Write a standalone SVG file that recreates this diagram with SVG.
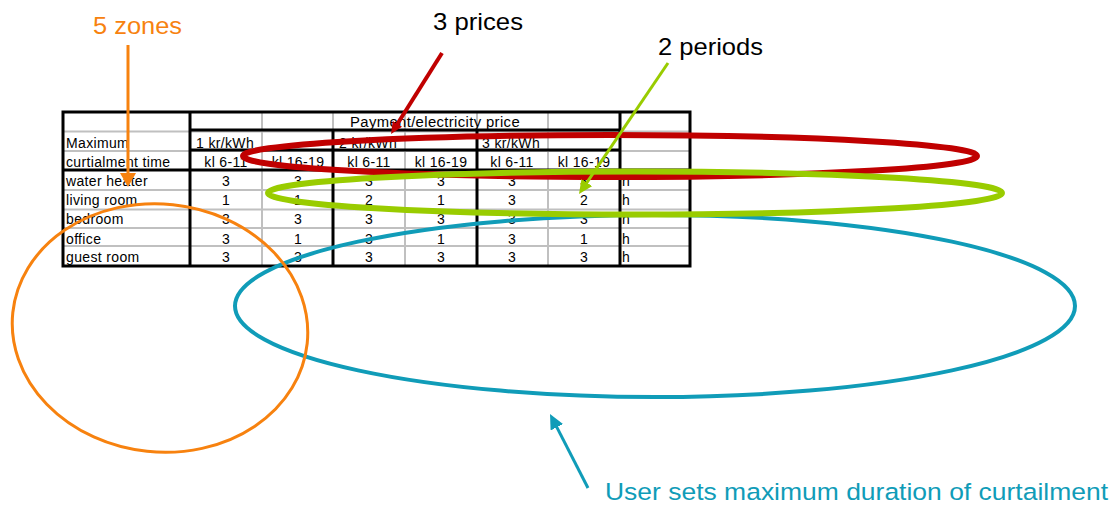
<svg xmlns="http://www.w3.org/2000/svg" width="1115" height="505" viewBox="0 0 1115 505">
  <style>
    .cell { font-family: "Liberation Sans", Arial, sans-serif; font-size: 14px; letter-spacing: 0.35px; fill: #000; }
    .num { text-anchor: middle; }
    .grid-b { stroke: #000; stroke-width: 3; fill: none; }
    .grid-g { stroke: #c0c0c0; stroke-width: 2; fill: none; }
    .note { font-family: "Liberation Sans", Arial, sans-serif; font-size: 24.5px; }
    .ring { fill: none; }
  </style>
  <defs>
    <marker id="head-orange" markerUnits="userSpaceOnUse" viewBox="0 0 14 16" markerWidth="14" markerHeight="16" refX="1" refY="8" orient="auto">
      <path d="M0,0 L14,8 L0,16 z" fill="#f7820f"/>
    </marker>
    <marker id="head-red" markerUnits="userSpaceOnUse" viewBox="0 0 12 11" markerWidth="12" markerHeight="11" refX="1" refY="5.5" orient="auto">
      <path d="M0,0 L12,5.5 L0,11 z" fill="#c00000"/>
    </marker>
    <marker id="head-green" markerUnits="userSpaceOnUse" viewBox="0 0 14 13" markerWidth="14" markerHeight="13" refX="1" refY="6.5" orient="auto">
      <path d="M0,0 L14,6.5 L0,13 z" fill="#99cc00"/>
    </marker>
    <marker id="head-teal" markerUnits="userSpaceOnUse" viewBox="0 0 15 14" markerWidth="15" markerHeight="14" refX="1" refY="7" orient="auto">
      <path d="M0,0 L15,7 L0,14 z" fill="#109cb8"/>
    </marker>
  </defs>

  <rect width="1115" height="505" fill="#fff"/>

  <!-- curtailment settings table -->
  <g id="table">
    <g class="grid-g">
      <line x1="63" y1="131.5" x2="690" y2="131.5"/>
      <line x1="63" y1="151" x2="690" y2="151"/>
      <line x1="63" y1="190" x2="690" y2="190"/>
      <line x1="63" y1="209.5" x2="690" y2="209.5"/>
      <line x1="63" y1="228" x2="690" y2="228"/>
      <line x1="63" y1="246" x2="690" y2="246"/>
      <line x1="262" y1="112" x2="262" y2="266"/>
      <line x1="333" y1="112" x2="333" y2="130"/>
      <line x1="405" y1="112" x2="405" y2="266"/>
      <line x1="477" y1="112" x2="477" y2="130"/>
      <line x1="548" y1="112" x2="548" y2="266"/>
    </g>
    <g class="grid-b">
      <rect x="63" y="112" width="627" height="154"/>
      <line x1="190" y1="130" x2="620" y2="130"/>
      <line x1="190" y1="150" x2="620" y2="150"/>
      <line x1="63" y1="170" x2="690" y2="170"/>
      <line x1="190" y1="112" x2="190" y2="266"/>
      <line x1="333" y1="130" x2="333" y2="266"/>
      <line x1="477" y1="130" x2="477" y2="266"/>
      <line x1="620" y1="112" x2="620" y2="266"/>
    </g>

    <text class="cell" x="350" y="127" textLength="170" lengthAdjust="spacingAndGlyphs">Payment/electricity price</text>

    <text class="cell" x="66" y="148">Maximum</text>
    <text class="cell" x="196" y="148">1 kr/kWh</text>
    <text class="cell" x="339" y="148">2 kr/kWh</text>
    <text class="cell" x="482" y="148">3  kr/kWh</text>

    <text class="cell" x="66" y="167">curtialment time</text>
    <text class="cell num" x="226" y="167">kl 6-11</text>
    <text class="cell num" x="298" y="167">kl 16-19</text>
    <text class="cell num" x="369" y="167">kl 6-11</text>
    <text class="cell num" x="441" y="167">kl 16-19</text>
    <text class="cell num" x="512" y="167">kl 6-11</text>
    <text class="cell num" x="584" y="167">kl 16-19</text>

    <text class="cell" x="66" y="186">water heater</text>
    <text class="cell num" x="226" y="186">3</text>
    <text class="cell num" x="298" y="186">3</text>
    <text class="cell num" x="369" y="186">3</text>
    <text class="cell num" x="441" y="186">3</text>
    <text class="cell num" x="512" y="186">3</text>
    <text class="cell num" x="584" y="186">3</text>
    <text class="cell" x="622" y="186">h</text>

    <text class="cell" x="66" y="205">living room</text>
    <text class="cell num" x="226" y="205">1</text>
    <text class="cell num" x="298" y="205">1</text>
    <text class="cell num" x="369" y="205">2</text>
    <text class="cell num" x="441" y="205">1</text>
    <text class="cell num" x="512" y="205">3</text>
    <text class="cell num" x="584" y="205">2</text>
    <text class="cell" x="622" y="205">h</text>

    <text class="cell" x="66" y="224">bedroom</text>
    <text class="cell num" x="226" y="224">3</text>
    <text class="cell num" x="298" y="224">3</text>
    <text class="cell num" x="369" y="224">3</text>
    <text class="cell num" x="441" y="224">3</text>
    <text class="cell num" x="512" y="224">3</text>
    <text class="cell num" x="584" y="224">3</text>
    <text class="cell" x="622" y="224">h</text>

    <text class="cell" x="66" y="244">office</text>
    <text class="cell num" x="226" y="244">3</text>
    <text class="cell num" x="298" y="244">1</text>
    <text class="cell num" x="369" y="244">3</text>
    <text class="cell num" x="441" y="244">1</text>
    <text class="cell num" x="512" y="244">3</text>
    <text class="cell num" x="584" y="244">1</text>
    <text class="cell" x="622" y="244">h</text>

    <text class="cell" x="66" y="262">guest room</text>
    <text class="cell num" x="226" y="262">3</text>
    <text class="cell num" x="298" y="262">3</text>
    <text class="cell num" x="369" y="262">3</text>
    <text class="cell num" x="441" y="262">3</text>
    <text class="cell num" x="512" y="262">3</text>
    <text class="cell num" x="584" y="262">3</text>
    <text class="cell" x="622" y="262">h</text>
  </g>

  <!-- highlight rings over the table -->
  <g id="ring-duration">
    <ellipse class="ring" cx="655" cy="306" rx="420" ry="91" stroke="#109cb8" stroke-width="4"/>
  </g>
  <g id="ring-zones">
    <ellipse class="ring" cx="160" cy="328" rx="148" ry="124" stroke="#f7820f" stroke-width="3" transform="rotate(6 160 328)"/>
  </g>
  <g id="ring-prices">
    <ellipse class="ring" cx="610" cy="156" rx="367" ry="21" stroke="#c00000" stroke-width="6"/>
  </g>
  <g id="ring-periods">
    <ellipse class="ring" cx="635" cy="193" rx="367" ry="21.5" stroke="#99cc00" stroke-width="6"/>
  </g>

  <!-- callout labels -->
  <g id="label-zones">
    <text class="note" x="93" y="34" fill="#f7820f" textLength="89" lengthAdjust="spacingAndGlyphs">5 zones</text>
  </g>
  <g id="label-prices">
    <text class="note" x="433" y="30" fill="#000" textLength="90" lengthAdjust="spacingAndGlyphs">3 prices</text>
  </g>
  <g id="label-periods">
    <text class="note" x="658" y="55" fill="#000" textLength="105" lengthAdjust="spacingAndGlyphs">2 periods</text>
  </g>
  <g id="label-duration">
    <text class="note" x="605" y="500" fill="#109cb8" textLength="503" lengthAdjust="spacingAndGlyphs">User sets maximum duration of curtailment</text>
  </g>

  <!-- pointer arrows -->
  <g id="connectors">
    <line x1="128" y1="45" x2="128" y2="174" stroke="#f7820f" stroke-width="3" marker-end="url(#head-orange)"/>
    <line x1="442" y1="53" x2="396.9" y2="124.7" stroke="#c00000" stroke-width="4" marker-end="url(#head-red)"/>
    <line x1="668" y1="63" x2="586.3" y2="183.3" stroke="#99cc00" stroke-width="3" marker-end="url(#head-green)"/>
    <line x1="588" y1="488" x2="556.4" y2="426.4" stroke="#109cb8" stroke-width="3" marker-end="url(#head-teal)"/>
  </g>
</svg>
